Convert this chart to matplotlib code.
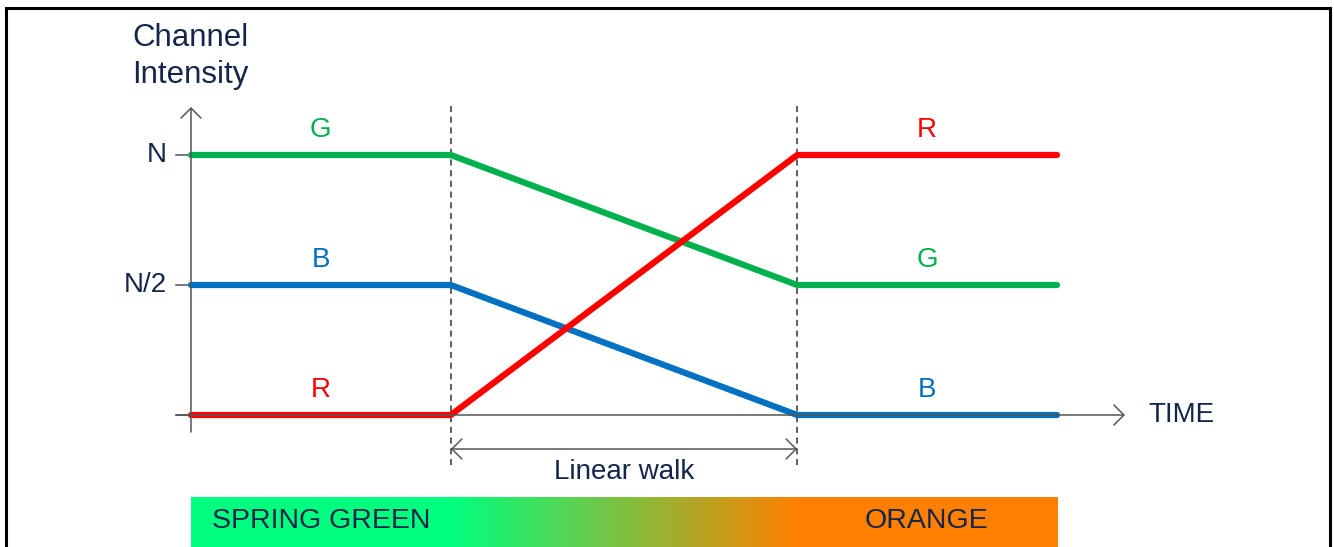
import numpy as np
import matplotlib
matplotlib.use("Agg")
import matplotlib.pyplot as plt
from matplotlib.colors import to_rgb
from matplotlib.lines import Line2D

# phase boundaries (time units) and channel levels (fraction of N)
times = [0, 3, 7, 10]
red = [0, 0, 1, 1]
green = [1, 1, 0.5, 0.5]
blue = [0.5, 0.5, 0, 0]
level_ticks = [1, 0.5, 0]
level_labels = ["N", "N/2", ""]
walk_start, walk_end = 3, 7
start_label, end_label = "SPRING GREEN", "ORANGE"
start_color, end_color = "#00FF7F", "#FF8000"

RED, GREEN, BLUE = "#FF0000", "#00B050", "#0070C0"
TXT = "#15264A"
AX = "#555555"

W, H = 1334, 547
X0, XS = 191, 86.6     # pixel of t=0, pixels per time unit
Y0, YS = 415, 260      # pixel of level 0, pixels per unit of N


def dx(p):
    return (p - X0) / XS


def dy(p):
    return (Y0 - p) / YS


plt.rcParams["font.family"] = ["Liberation Sans", "DejaVu Sans"]

fig = plt.figure(figsize=(W / 100, H / 100), dpi=100)
ax = fig.add_axes([0, 0, 1, 1])
ax.set_xlim(dx(0), dx(W))
ax.set_ylim(dy(H), dy(0))
ax.axis("off")

# frame around the picture (open at the bottom)
for xs, ys in [([6, 6], [H + 10, 8]), ([6, 1330], [8, 8]), ([1330, 1330], [8, H + 10])]:
    fig.add_artist(Line2D([x / W for x in xs], [1 - y / H for y in ys],
                          color="black", lw=2.2, transform=fig.transFigure))

# axes with open arrow heads
arrow = dict(arrowstyle="->,head_length=0.36,head_width=0.36", lw=1.1,
             color=AX, mutation_scale=20, shrinkA=0, shrinkB=0)
ax.annotate("", xy=(0, dy(107)), xytext=(0, dy(432)), arrowprops=arrow)
ax.annotate("", xy=(dx(1125), 0), xytext=(dx(176), 0), arrowprops=arrow)
for lv, lab in zip(level_ticks, level_labels):
    ax.plot([dx(176), 0], [lv, lv], color=AX, lw=1.1)
    if lab:
        ax.text(dx(167), lv, lab, ha="right", va="center", fontsize=20, color=TXT)

ax.text(dx(132), dy(38), "Channel", ha="left", va="center", fontsize=22.5, color=TXT)
ax.text(dx(132), dy(75), "Intensity", ha="left", va="center", fontsize=22.5, color=TXT)
ax.text(dx(1148), 0, "TIME", ha="left", va="center", fontsize=20, color=TXT)

# phase boundaries
for t in (walk_start, walk_end):
    ax.plot([t, t], [dy(465), dy(105)], color="#333333", lw=1.1, dashes=(4, 3))

# channel curves
for vals, col in [(green, GREEN), (blue, BLUE), (red, RED)]:
    ax.plot(times, vals, color=col, lw=4.5, solid_capstyle="round",
            solid_joinstyle="round")

# channel letters over the flat parts
off = 25 / YS
for vals, col, name in [(green, GREEN, "G"), (blue, BLUE, "B"), (red, RED, "R")]:
    ax.text((times[0] + times[1]) / 2, vals[0] + off, name, ha="center",
            va="center", fontsize=20, color=col)
    ax.text((times[2] + times[3]) / 2, vals[-1] + off, name, ha="center",
            va="center", fontsize=20, color=col)

# linear walk span
darrow = dict(arrow, arrowstyle="<->,head_length=0.36,head_width=0.36")
ax.annotate("", xy=(walk_end, dy(449)), xytext=(walk_start, dy(449)),
            arrowprops=darrow)
ax.text((walk_start + walk_end) / 2, dy(472), "Linear walk", ha="center",
        va="center", fontsize=20, color=TXT)

# colour bar
tt = np.linspace(times[0], times[-1], 600)
f = np.clip((tt - walk_start) / (walk_end - walk_start), 0, 1)[:, None]
grad = (1 - f) * np.array(to_rgb(start_color)) + f * np.array(to_rgb(end_color))
ax.imshow(grad[None, :, :], extent=(times[0], times[-1], dy(547), dy(497)),
          aspect="auto", interpolation="bilinear", zorder=0)
ax.text(dx(212), dy(521), start_label, ha="left", va="center", fontsize=20.5,
        color=TXT)
ax.text(dx(926), dy(521), end_label, ha="center", va="center", fontsize=20.5,
        color=TXT)

fig.savefig("out.png", dpi=100)
